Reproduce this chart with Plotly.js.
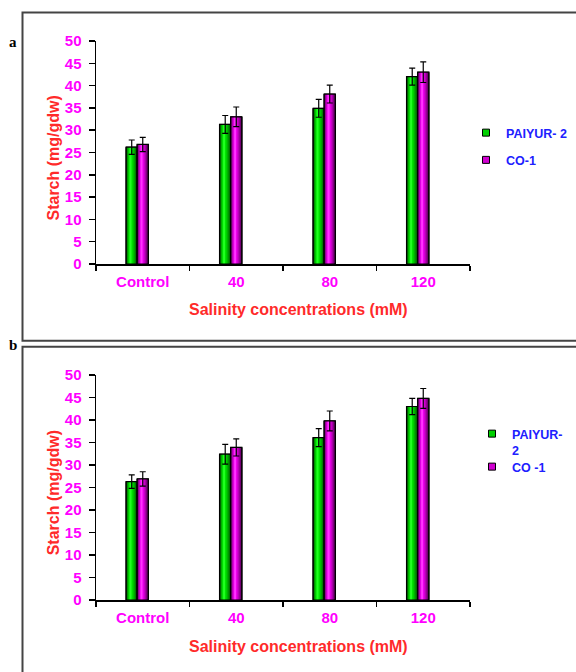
<!DOCTYPE html>
<html>
<head>
<meta charset="utf-8">
<script src="https://cdn.plot.ly/plotly-3.0.1.min.js"></script>
<style>html,body{margin:0;padding:0;background:#fff;}#chart{width:576px;height:672px;}</style>
</head>
<body>
<div id="chart"></div>
<script>
// ---- data ----
const categories = ["Control", "40", "80", "120"];
const seriesNames = ["PAIYUR- 2", "CO-1"];
const seriesNamesB = ["PAIYUR-<br>2", "CO -1"];
// panel a
const paiyurA = [26.2, 31.3, 34.9, 42.0];
const paiyurAErr = [1.6, 2.0, 2.0, 1.9];
const coA = [26.8, 33.0, 38.1, 43.0];
const coAErr = [1.6, 2.2, 2.0, 2.3];
// panel b
const paiyurB = [26.3, 32.4, 36.1, 43.0];
const paiyurBErr = [1.5, 2.2, 2.0, 1.8];
const coB = [26.9, 33.9, 39.8, 44.8];
const coBErr = [1.6, 1.9, 2.2, 2.2];
const yTicks = [0, 5, 10, 15, 20, 25, 30, 35, 40, 45, 50];

// ---- styling ----
const W = 576, H = 672;
const greenRamp = ["#005800", "#007f00", "#00a400", "#00c800", "#00e600", "#22ff22"];
const purpleRamp = ["#580058", "#7f007f", "#a800a8", "#cc00cc", "#ec00ec", "#ff33ff"];
const legendColors = ["#00d000", "#d000d0"];
const barW = 0.121;
const centers = [-0.118, 0.0];
const FONT = "Liberation Sans, Arial, sans-serif";

function makeSeries(vals, errs, ramp, center, name, xa, ya, legend, group, legendColor) {
  const traces = [];
  const L = ramp.length;
  for (let k = 0; k < L; k++) {
    const w = barW * (1 - k / L);
    const c = center - k * 0.0025;
    traces.push({
      type: "bar", x: categories, y: vals, xaxis: xa, yaxis: ya,
      width: w, offset: c - w / 2,
      marker: {color: ramp[k], line: {color: k === 0 ? "#000" : "rgba(0,0,0,0)", width: k === 0 ? 1 : 0}},
      showlegend: false, legend: legend, legendgroup: group,
      hoverinfo: "skip"
    });
  }
  // outline + error bars on top
  traces.push({
    type: "bar", x: categories, y: vals, xaxis: xa, yaxis: ya,
    width: barW, offset: center - barW / 2,
    marker: {color: "rgba(0,0,0,0)", line: {color: "#000", width: 1.2}},
    error_y: {type: "data", array: errs, visible: true, color: "#000", thickness: 1.2, width: 3},
    showlegend: false, legend: legend, legendgroup: group, hoverinfo: "skip"
  });
  // legend key (no visible marks in plot)
  traces.push({
    type: "scatter", mode: "markers", x: categories, y: categories.map(() => null),
    xaxis: xa, yaxis: ya,
    marker: {symbol: "square", size: 7, color: legendColor, line: {color: "#000", width: 1}},
    name: name, showlegend: true, legend: legend, legendgroup: group, hoverinfo: "skip"
  });
  return traces;
}

const data = [].concat(
  makeSeries(paiyurA, paiyurAErr, greenRamp, centers[0], seriesNames[0], "x", "y", "legend", "ga1", legendColors[0]),
  makeSeries(coA, coAErr, purpleRamp, centers[1], seriesNames[1], "x", "y", "legend", "ga2", legendColors[1]),
  makeSeries(paiyurB, paiyurBErr, greenRamp, centers[0], seriesNamesB[0], "x2", "y2", "legend2", "gb1", legendColors[0]),
  makeSeries(coB, coBErr, purpleRamp, centers[1], seriesNamesB[1], "x2", "y2", "legend3", "gb2", legendColors[1])
);

const px = v => v / W;
const py = v => 1 - v / H;

function xaxisDef(anchor) {
  return {
    domain: [px(96), px(470)], anchor: anchor, type: "category",
    showgrid: false, zeroline: false, showline: true, linecolor: "#000", linewidth: 1.5,
    ticks: "outside", tickson: "boundaries", ticklen: 5, tickcolor: "#000", tickwidth: 1.5,
    ticklabelstandoff: 3,
    tickfont: {family: FONT, size: 15, color: "#ff00ff", weight: "bold"},
    fixedrange: true
  };
}
function yaxisDef(anchor, top, bottom) {
  return {
    domain: [py(bottom), py(top)], anchor: anchor, range: [0, 50],
    tickvals: yTicks, ticktext: yTicks.map(String),
    showgrid: false, zeroline: false, showline: true, linecolor: "#000", linewidth: 1.5,
    ticks: "outside", ticklen: 6, tickcolor: "#000", tickwidth: 1.5,
    ticklabelstandoff: 4,
    tickfont: {family: FONT, size: 15, color: "#ff00ff", weight: "bold"},
    fixedrange: true
  };
}

const titleFont = {family: FONT, size: 16, color: "#ff2a2a", weight: "bold"};
const legendFont = {family: FONT, size: 12.5, color: "#2020ff", weight: "bold"};

const layout = {
  width: W, height: H,
  margin: {l: 0, r: 0, t: 0, b: 0},
  paper_bgcolor: "#fff", plot_bgcolor: "rgba(0,0,0,0)",
  barmode: "overlay",
  xaxis: xaxisDef("y"),
  yaxis: yaxisDef("x", 41, 264),
  xaxis2: xaxisDef("y2"),
  yaxis2: yaxisDef("x2", 375, 600),
  legend: {x: px(466), y: py(118), xanchor: "left", yanchor: "top", font: legendFont,
           bgcolor: "rgba(0,0,0,0)", borderwidth: 0, tracegroupgap: 8, traceorder: "grouped"},
  legend2: {x: px(472), y: py(419), xanchor: "left", yanchor: "top", font: legendFont,
            bgcolor: "rgba(0,0,0,0)", borderwidth: 0, tracegroupgap: 0, valign: "top"},
  legend3: {x: px(472), y: py(452), xanchor: "left", yanchor: "top", font: legendFont,
            bgcolor: "rgba(0,0,0,0)", borderwidth: 0, tracegroupgap: 0, valign: "top"},
  showlegend: true,
  shapes: [
    {type: "rect", xref: "paper", yref: "paper", x0: px(22.5), x1: 1.05, y0: py(340.7), y1: py(12.5),
     line: {color: "#444", width: 2}},
    {type: "rect", xref: "paper", yref: "paper", x0: px(22.5), x1: 1.05, y0: -0.05, y1: py(346.7),
     line: {color: "#444", width: 2}}
  ],
  annotations: [
    {xref: "paper", yref: "paper", x: px(298.5), y: py(309), text: "Salinity concentrations (mM)",
     showarrow: false, font: titleFont, xanchor: "center", yanchor: "middle"},
    {xref: "paper", yref: "paper", x: px(53), y: py(158.5), text: "Starch (mg/gdw)", textangle: -90,
     showarrow: false, font: titleFont, xanchor: "center", yanchor: "middle"},
    {xref: "paper", yref: "paper", x: px(298.5), y: py(646.7), text: "Salinity concentrations (mM)",
     showarrow: false, font: titleFont, xanchor: "center", yanchor: "middle"},
    {xref: "paper", yref: "paper", x: px(53), y: py(493.3), text: "Starch (mg/gdw)", textangle: -90,
     showarrow: false, font: titleFont, xanchor: "center", yanchor: "middle"},
    {xref: "paper", yref: "paper", x: px(13), y: py(41.7), text: "a", showarrow: false,
     font: {family: "Liberation Serif, serif", size: 15, color: "#000", weight: "bold"}, xanchor: "center", yanchor: "middle"},
    {xref: "paper", yref: "paper", x: px(13), y: py(345), text: "b", showarrow: false,
     font: {family: "Liberation Serif, serif", size: 15, color: "#000", weight: "bold"}, xanchor: "center", yanchor: "middle"}
  ]
};

Plotly.newPlot("chart", data, layout, {staticPlot: true, displayModeBar: false});
</script>
</body>
</html>
